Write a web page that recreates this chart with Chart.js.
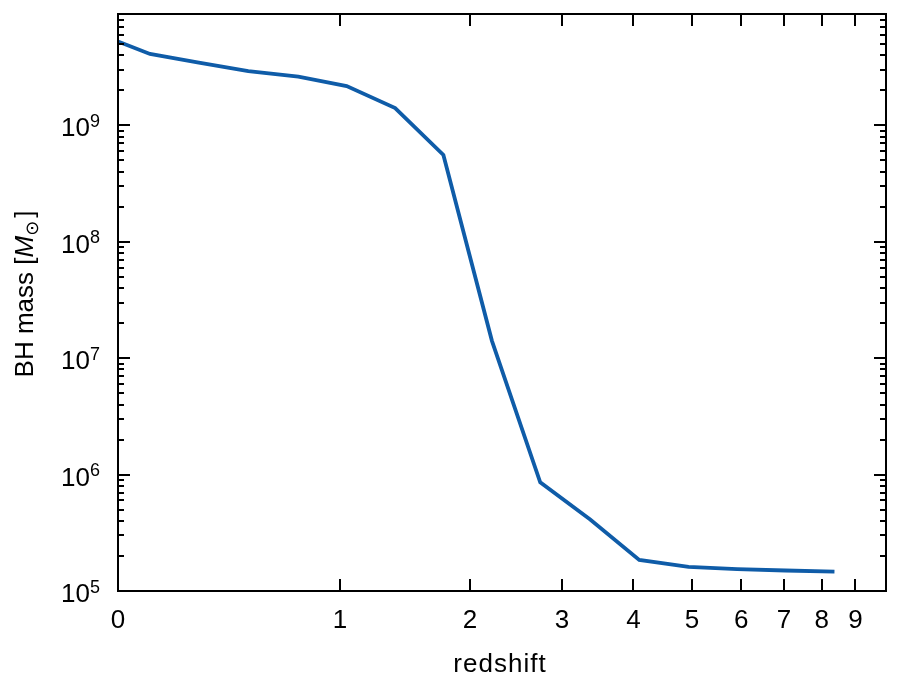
<!DOCTYPE html>
<html><head><meta charset="utf-8">
<script src="https://cdn.jsdelivr.net/npm/chart.js@4.4.1/dist/chart.umd.min.js"></script>
<style>html,body{margin:0;padding:0;background:#fff}canvas{display:block}</style>
</head><body>
<canvas id="c" width="900" height="692"></canvas>
<script>
// ---- data ----
const redshift = [0, 0.105, 0.287, 0.502, 0.756, 1.042, 1.376, 1.762, 2.214, 2.737, 3.368, 4.091, 4.939, 5.91, 7.035, 8.365];
const bhMass   = [5.26e9, 4.11e9, 3.46e9, 2.92e9, 2.62e9, 2.18e9, 1.41e9, 5.58e8, 1.41e7, 8.59e5, 4.11e5, 1.85e5, 1.61e5, 1.54e5, 1.50e5, 1.47e5];
const xTickLabels = [0, 1, 2, 3, 4, 5, 6, 7, 8, 9];
const yMajorExponents = [5, 6, 7, 8, 9];
const xMaxRedshift = 10;
const yMin = 1e5, yMax = 9.06e9;

const FONT = '"Liberation Sans", Arial, Helvetica, sans-serif';
const LINE_COLOR = '#0f5ca8';

const pts = redshift.map((z, i) => ({ x: 1 + z, y: bhMass[i] }));

const framePlugin = {
  id: 'frame',
  afterDraw(chart) {
    const { ctx, chartArea: a, scales: { x, y } } = chart;
    ctx.save();
    ctx.strokeStyle = '#000';
    ctx.fillStyle = '#000';
    // ticks (inward, all sides)
    ctx.lineWidth = 2;
    ctx.beginPath();
    x.ticks.forEach(t => {
      const px = Math.round(x.getPixelForValue(t.value));
      ctx.moveTo(px, a.bottom); ctx.lineTo(px, a.bottom - 12);
      ctx.moveTo(px, a.top); ctx.lineTo(px, a.top + 12);
    });
    y.ticks.forEach(t => {
      const py = Math.round(y.getPixelForValue(t.value));
      const len = t.major ? 12 : 6;
      ctx.moveTo(a.left, py); ctx.lineTo(a.left + len, py);
      ctx.moveTo(a.right, py); ctx.lineTo(a.right - len, py);
    });
    ctx.stroke();
    // frame
    ctx.lineWidth = 2;
    ctx.strokeRect(a.left, a.top, a.right - a.left, a.bottom - a.top);

    // x tick labels
    ctx.font = '26px ' + FONT;
    ctx.textAlign = 'center';
    ctx.textBaseline = 'alphabetic';
    x.ticks.forEach(t => {
      const px = x.getPixelForValue(t.value);
      ctx.fillText(String(t.label), px, a.bottom + 36.5);
    });
    // x title
    if ('letterSpacing' in ctx) ctx.letterSpacing = '1px';
    ctx.fillText('redshift', (a.left + a.right) / 2 - 2, 671.5);
    if ('letterSpacing' in ctx) ctx.letterSpacing = '0px';

    // y tick labels with superscript exponents
    y.ticks.forEach(t => {
      if (!t.major) return;
      const py = y.getPixelForValue(t.value);
      const exp = String(Math.round(Math.log10(t.value)));
      ctx.font = '26px ' + FONT;
      const wb = ctx.measureText('10').width;
      ctx.font = '18px ' + FONT;
      const we = ctx.measureText(exp).width;
      const right = a.left - 18;
      ctx.textAlign = 'left';
      ctx.font = '26px ' + FONT;
      ctx.fillText('10', right - we - wb, py + 11);
      ctx.font = '18px ' + FONT;
      ctx.fillText(exp, right - we, py + 1.5);
    });

    // y title: BH mass [M_sun]
    ctx.save();
    ctx.translate(32.5, 294);
    ctx.rotate(-Math.PI / 2);
    const parts = [
      { t: 'BH mass [', f: '26px ' + FONT, dy: 0 },
      { t: 'M', f: 'italic 26px ' + FONT, dy: 0 },
      { t: '\u2299', f: '18px "DejaVu Sans", ' + FONT, dy: 5.5 },
      { t: ']', f: '26px ' + FONT, dy: 0 }
    ];
    let total = 0;
    parts.forEach(p => { ctx.font = p.f; p.w = ctx.measureText(p.t).width; total += p.w; });
    total += 3;
    let cx = -total / 2;
    ctx.textAlign = 'left';
    parts.forEach((p, i) => {
      ctx.font = p.f;
      ctx.fillText(p.t, cx, p.dy);
      cx += p.w + (i === 2 ? 3 : 0);
    });
    ctx.restore();
    ctx.restore();
  }
};

new Chart(document.getElementById('c'), {
  type: 'line',
  data: {
    datasets: [{
      data: pts,
      borderColor: LINE_COLOR,
      borderWidth: 3.8,
      pointRadius: 0,
      tension: 0,
      fill: false
    }]
  },
  options: {
    responsive: false,
    animation: false,
    events: [],
    layout: { padding: { top: 14, right: 14, left: 0, bottom: 0 } },
    plugins: { legend: { display: false }, tooltip: { enabled: false } },
    scales: {
      x: {
        type: 'logarithmic',
        min: 1,
        max: 1 + xMaxRedshift,
        grid: { display: false, drawTicks: false },
        border: { display: false },
        ticks: { display: false },
        afterBuildTicks: s => { s.ticks = xTickLabels.map(z => ({ value: 1 + z, label: String(z) })); },
        afterTickToLabelConversion: s => { s.ticks.forEach((t, i) => { t.label = String(xTickLabels[i]); }); },
        afterFit: s => { s.height = 101; }
      },
      y: {
        type: 'logarithmic',
        min: yMin,
        max: yMax,
        grid: { display: false, drawTicks: false },
        border: { display: false },
        ticks: { display: false },
        afterBuildTicks: s => {
          const arr = [];
          yMajorExponents.forEach(e => {
            for (let m = 1; m <= 9; m++) {
              const v = m * Math.pow(10, e);
              if (v >= yMin && v <= yMax) arr.push({ value: v, major: m === 1 });
            }
          });
          s.ticks = arr;
        },
        afterTickToLabelConversion: s => { s.ticks.forEach(t => { t.major = Math.abs(Math.log10(t.value) - Math.round(Math.log10(t.value))) < 1e-9; }); },
        afterFit: s => { s.width = 118; }
      }
    }
  },
  plugins: [framePlugin]
});
</script>
</body></html>
